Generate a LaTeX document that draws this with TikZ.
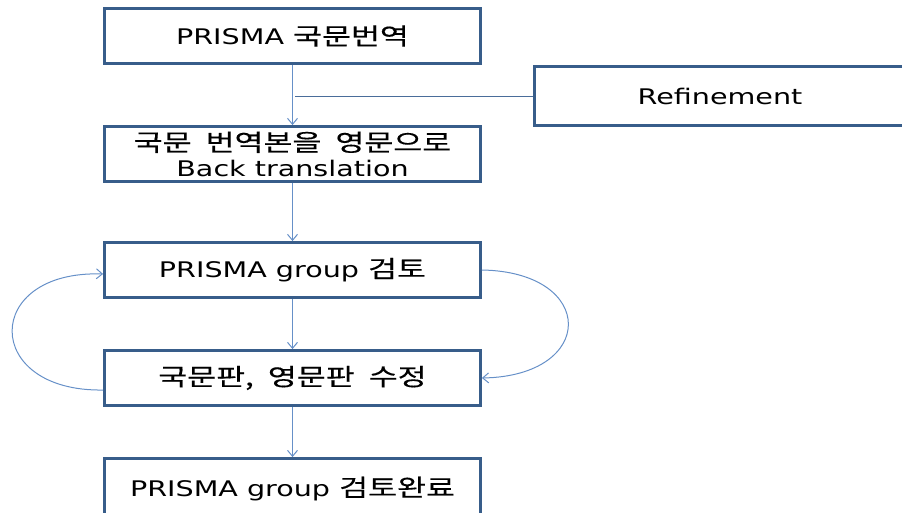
\documentclass[tikz,border=0pt]{standalone}
\usepackage{fontspec}
\setmainfont{DejaVu Sans}[FakeStretch=1.33]
\newfontfamily\kr{Noto Sans CJK KR}[FakeStretch=1.33, Scale=1.1, WordSpace=2, FakeBold=0.4]
\usetikzlibrary{arrows.meta}
\definecolor{boxline}{HTML}{385D8A}
\definecolor{flow}{HTML}{6690C8}
\definecolor{joinline}{HTML}{4A6D9A}
\tikzset{
  stepbox/.style={draw=boxline, line width=2.8pt, fill=white,
    minimum width=376pt, minimum height=55pt, inner sep=0pt,
    align=center, font=\fontsize{21.5}{25}\selectfont},
  flowarrow/.style={draw=flow, line width=1pt,
    -{Straight Barb[length=6pt,width=10pt]}},
}
\begin{document}
\begin{tikzpicture}[x=1pt, y=-1pt]
  \useasboundingbox (0,0) rectangle (902,513);
  \clip (0,0) rectangle (902,513);

  % main column of steps
  \node[stepbox] (b1) at (292.5,36)  {PRISMA {\kr 국문번역}};
  \node[stepbox] (b2) at (292.5,154) {{\kr 국문 번역본을 영문으로}\\Back translation};
  \node[stepbox] (b3) at (292.5,270) {PRISMA group {\kr 검토}};
  \node[stepbox] (b4) at (292.5,378) {{\kr 국문판, 영문판 수정}};
  \node[stepbox, minimum height=62pt] (b5) at (292.5,489.5)
    {\raisebox{6pt}{PRISMA group {\kr 검토완료}}};

  % side box
  \node[stepbox, minimum width=371pt, minimum height=59pt] (ref) at (720,96) {Refinement};
  \coordinate (join) at (295,97);

  % straight flow
  \draw[flowarrow] (b1.south) -- (b2.north);
  \draw[flowarrow] (b2.south) -- (b3.north);
  \draw[flowarrow] (b3.south) -- (b4.north);
  \draw[flowarrow] (b4.south) -- (b5.north);

  % refinement feeds the first arrow
  \draw[joinline, line width=1pt] (ref.west |- join) -- (join);

  % review loop
  \draw[flowarrow] ([yshift=-12pt]b4.west) .. controls (-18,392) and (-18,270) .. ([yshift=-4pt]b3.west);
  \draw[flowarrow] (b3.east) .. controls (597,272) and (597,376) .. (b4.east);
\end{tikzpicture}
\end{document}
